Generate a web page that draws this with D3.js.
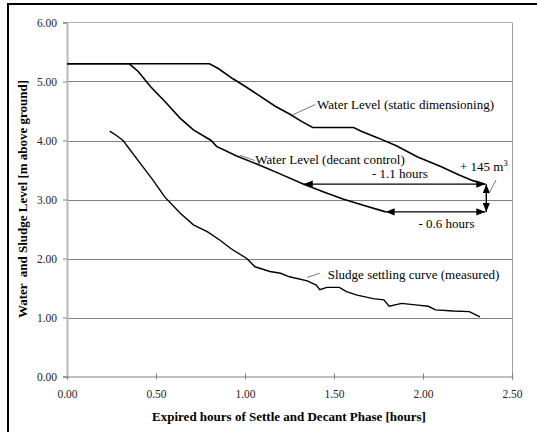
<!DOCTYPE html>
<html>
<head>
<meta charset="utf-8">
<script src="https://cdn.jsdelivr.net/npm/d3@7/dist/d3.min.js"></script>
<style>
  html, body { margin: 0; padding: 0; background: #fff; }
</style>
</head>
<body>
<div id="chart"></div>
<script>
// ---- data ----
const xTicks = [0, 0.5, 1.0, 1.5, 2.0, 2.5];
const yTicks = [0, 1, 2, 3, 4, 5, 6];

const staticX = [0, 0.80, 0.85, 0.93, 1.00, 1.08, 1.17, 1.25, 1.32, 1.38, 1.61, 1.65, 1.75, 1.85, 1.97, 2.10, 2.20, 2.28, 2.35];
const staticY = [5.30, 5.30, 5.22, 5.05, 4.92, 4.76, 4.58, 4.45, 4.32, 4.22, 4.22, 4.16, 4.04, 3.91, 3.72, 3.56, 3.42, 3.32, 3.26];

const decantX = [0, 0.35, 0.40, 0.47, 0.55, 0.635, 0.71, 0.81, 0.84, 0.95, 1.10, 1.20, 1.33, 1.45, 1.55, 1.646, 1.79];
const decantY = [5.30, 5.30, 5.17, 4.91, 4.66, 4.38, 4.18, 4.00, 3.90, 3.74, 3.56, 3.43, 3.26, 3.12, 3.01, 2.92, 2.79];

const sludgeX = [0.24, 0.28, 0.315, 0.40, 0.48, 0.55, 0.635, 0.71, 0.79, 0.86, 0.92, 1.01, 1.056, 1.14, 1.20, 1.25, 1.35, 1.40, 1.42, 1.46, 1.53, 1.57, 1.63, 1.72, 1.78, 1.81, 1.88, 1.97, 2.03, 2.07, 2.17, 2.26, 2.32];
const sludgeY = [4.16, 4.08, 4.00, 3.66, 3.34, 3.04, 2.77, 2.57, 2.45, 2.31, 2.17, 2.00, 1.86, 1.78, 1.75, 1.69, 1.62, 1.55, 1.47, 1.51, 1.51, 1.44, 1.38, 1.32, 1.30, 1.19, 1.24, 1.21, 1.19, 1.13, 1.11, 1.10, 1.01];

// annotation arrows (data units)
const arrow11 = {x1: 1.33, x2: 2.35, y: 3.26};   // - 1.1 hours
const arrow06 = {x1: 1.79, x2: 2.35, y: 2.79};   // - 0.6 hours
const arrowV  = {x: 2.35, y1: 3.26, y2: 2.79};   // + 145 m3

// ---- layout ----
const FONT = "'Liberation Serif', 'Times New Roman', Times, serif";
const W = 537, H = 432;
const svg = d3.select("#chart").append("svg")
  .attr("width", W).attr("height", H)
  .attr("font-family", FONT)
  .style("display", "block");

svg.append("rect").attr("width", W).attr("height", H).attr("fill", "#fff");
// outer frame (left and top visible)
svg.append("rect").attr("x", 8).attr("y", 4).attr("width", 560).attr("height", 460)
  .attr("fill", "none").attr("stroke", "#000").attr("stroke-width", 2);

const x = d3.scaleLinear().domain([0, 2.5]).range([67, 512]);
const y = d3.scaleLinear().domain([0, 6]).range([376.5, 22.5]);

// gridlines
svg.append("g").selectAll("line").data(yTicks.filter(d => d > 0 && d < 6)).join("line")
  .attr("x1", x(0)).attr("x2", x(2.5))
  .attr("y1", d => Math.round(y(d)) + 0.5).attr("y2", d => Math.round(y(d)) + 0.5)
  .attr("stroke", "#808080").attr("stroke-width", 1);
// top border
svg.append("line").attr("x1", x(0)).attr("x2", x(2.5))
  .attr("y1", y(6)).attr("y2", y(6))
  .attr("stroke", "#b0b0b0").attr("stroke-width", 1);
// right border
svg.append("line").attr("x1", x(2.5) + 0.5).attr("x2", x(2.5) + 0.5)
  .attr("y1", y(6)).attr("y2", y(0))
  .attr("stroke", "#a0a0a0").attr("stroke-width", 1);

// y axis
const yAxis = d3.axisLeft(y).tickValues(yTicks).tickFormat(d3.format(".2f"))
  .tickSize(4).tickPadding(6);
const gy = svg.append("g").attr("transform", `translate(${x(0)},0)`).call(yAxis)
  .attr("font-family", FONT).attr("font-size", 11.5);
gy.select(".domain").attr("stroke", "#b8b8b8").attr("stroke-width", 2);
gy.selectAll(".tick line").attr("stroke", "#808080");
gy.selectAll("text").attr("fill", "#222");

// x axis
const xAxis = d3.axisBottom(x).tickValues(xTicks).tickFormat(d3.format(".2f"))
  .tickSize(3).tickPadding(10);
const gx = svg.append("g").attr("transform", `translate(0,${y(0)})`).call(xAxis)
  .attr("font-family", FONT).attr("font-size", 11.5);
gx.select(".domain").attr("stroke", "#808080").attr("stroke-width", 1.2);
gx.selectAll(".tick line").attr("stroke", "#808080").attr("y1", -3).attr("y2", 3);
gx.selectAll(".tick").filter(d => d === 0).select("line").remove();
gx.selectAll("text").attr("fill", "#222");

// axis titles
svg.append("text").attr("x", 289).attr("y", 421).attr("text-anchor", "middle")
  .attr("font-size", 13).attr("font-weight", "bold")
  .text("Expired hours of Settle and Decant Phase [hours]");
svg.append("text").attr("transform", "translate(27,199) rotate(-90)")
  .attr("text-anchor", "middle").attr("font-size", 13).attr("font-weight", "bold")
  .attr("xml:space", "preserve").style("white-space", "pre")
  .text("Water  and Sludge Level [m above ground]");

// curves
const line = d3.line().x(d => x(d[0])).y(d => y(d[1]));
const zip = (a, b) => a.map((v, i) => [v, b[i]]);

svg.append("path").datum(zip(staticX, staticY)).attr("d", line)
  .attr("fill", "none").attr("stroke", "#000").attr("stroke-width", 1.6);
svg.append("path").datum(zip(decantX, decantY)).attr("d", line)
  .attr("fill", "none").attr("stroke", "#000").attr("stroke-width", 1.6);
svg.append("path").datum(zip(sludgeX, sludgeY)).attr("d", line)
  .attr("fill", "none").attr("stroke", "#000").attr("stroke-width", 1.4);

// arrowheads
const defs = svg.append("defs");
defs.append("marker").attr("id", "ah").attr("viewBox", "0 0 10 10")
  .attr("refX", 10).attr("refY", 5).attr("markerWidth", 9).attr("markerHeight", 9)
  .attr("markerUnits", "userSpaceOnUse").attr("orient", "auto-start-reverse")
  .append("path").attr("d", "M0,1 L10,5 L0,9 Z").attr("fill", "#000");

function arrow(x1, y1, x2, y2) {
  svg.append("line").attr("x1", x1).attr("y1", y1).attr("x2", x2).attr("y2", y2)
    .attr("stroke", "#000").attr("stroke-width", 1.4)
    .attr("marker-start", "url(#ah)").attr("marker-end", "url(#ah)");
}
arrow(x(arrow11.x1), y(arrow11.y), x(arrow11.x2), y(arrow11.y));
arrow(x(arrow06.x1), y(arrow06.y), x(arrow06.x2), y(arrow06.y));
arrow(x(arrowV.x) + 1, y(arrowV.y1), x(arrowV.x) + 1, y(arrowV.y2));

// labels & leader lines
function leader(x1, y1, x2, y2) {
  svg.append("line").attr("x1", x1).attr("y1", y1).attr("x2", x2).attr("y2", y2)
    .attr("stroke", "#555").attr("stroke-width", 0.8);
}
function label(tx, ty, t, anchor) {
  return svg.append("text").attr("x", tx).attr("y", ty).attr("font-size", 13)
    .attr("text-anchor", anchor || "start").attr("fill", "#000").text(t);
}
leader(x(1.265), y(4.43), x(1.395), y(4.61));
label(x(1.405), y(4.53), "Water Level (static dimensioning)");
leader(x(0.97), y(3.75), x(1.055), y(3.66));
label(x(1.058), y(3.6), "Water Level (decant control)");
leader(x(1.35), y(1.68), x(1.42), y(1.75));
label(x(1.465), y(1.66), "Sludge settling curve (measured)");

label(x(1.87), y(3.365), "- 1.1 hours", "middle");
label(x(2.132), y(2.515), "- 0.6 hours", "middle");
const t145 = label(x(2.208), y(3.485), "+ 145 m");
t145.append("tspan").attr("dy", -5).attr("font-size", 8.5).text("3");
leader(x(2.37), y(3.10), x(2.41), y(3.33));
</script>
</body>
</html>
